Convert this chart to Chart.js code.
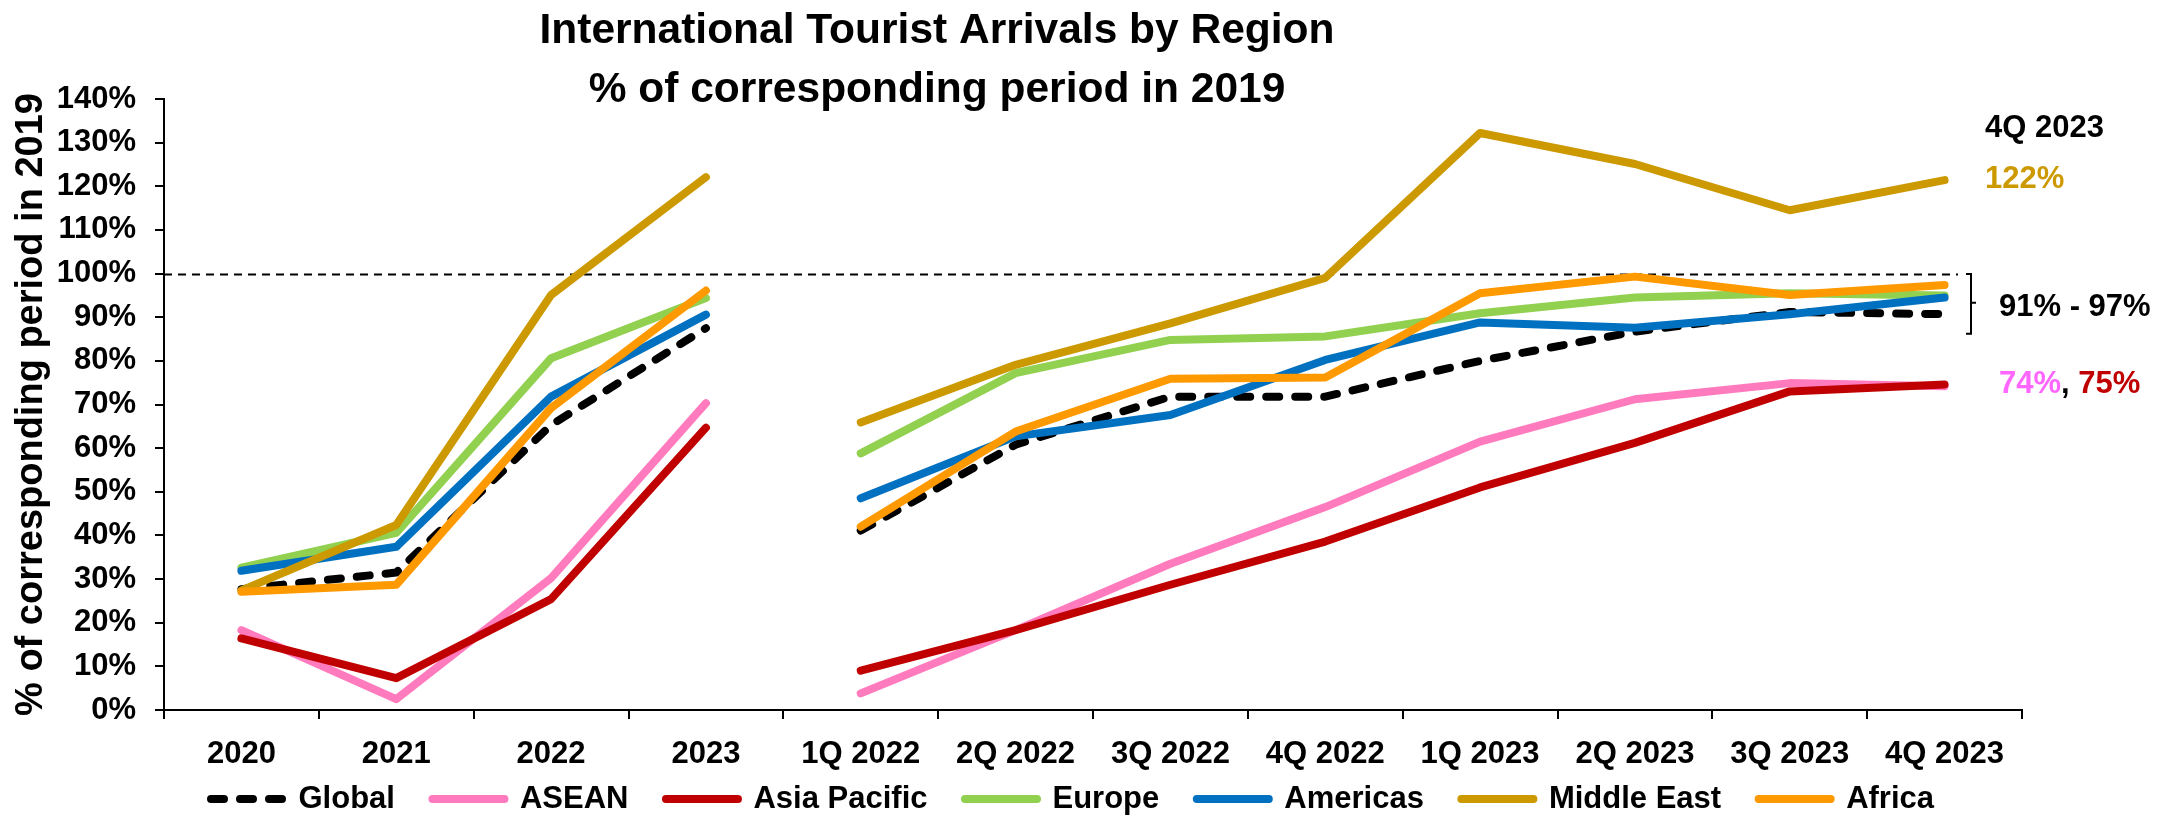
<!DOCTYPE html>
<html>
<head>
<meta charset="utf-8">
<script src="https://cdn.jsdelivr.net/npm/chart.js@4/dist/chart.umd.min.js"></script>
<style>
  html, body { margin: 0; padding: 0; background: #ffffff; }
  canvas { display: block; }
</style>
</head>
<body>
<canvas id="chart" width="2165" height="821"></canvas>
<script>
// ---------- data ----------
const categories = ['2020', '2021', '2022', '2023', '1Q 2022', '2Q 2022', '3Q 2022', '4Q 2022', '1Q 2023', '2Q 2023', '3Q 2023', '4Q 2023'];
const annualCount = 4; // first four categories are annual, the rest quarterly (lines break between them)

const globalValues      = [27.7, 31.5, 65.3, 87.5, 41.1, 60.8, 71.8, 71.8, 80.0, 86.7, 91.2, 90.7];
const aseanValues       = [18.3, 2.5, 30.2, 70.3, 3.8, 18.3, 33.5, 46.5, 61.5, 71.2, 74.9, 74.2];
const asiaPacificValues = [16.4, 7.3, 25.4, 64.7, 9.0, 18.3, 28.7, 38.6, 51.0, 61.2, 73.0, 74.6];
const europeValues      = [32.6, 40.6, 80.6, 94.4, 58.8, 77.2, 84.8, 85.6, 90.9, 94.5, 95.5, 95.0];
const americasValues    = [31.9, 37.4, 71.8, 90.6, 48.5, 62.7, 67.6, 80.2, 88.8, 87.6, 90.7, 94.5];
const middleEastValues  = [27.4, 42.4, 95.1, 122.1, 65.9, 79.1, 88.6, 99.0, 132.2, 125.1, 114.5, 121.4];
const africaValues      = [27.1, 28.7, 69.2, 96.1, 42.0, 63.8, 75.9, 76.2, 95.5, 99.3, 95.1, 97.4];

const seriesNames  = ['Global', 'ASEAN', 'Asia Pacific', 'Europe', 'Americas', 'Middle East', 'Africa'];
const seriesValues = [globalValues, aseanValues, asiaPacificValues, europeValues, americasValues, middleEastValues, africaValues];
const seriesColors = ['#000000', '#FF7BBE', '#C00000', '#92D050', '#0070C0', '#CC9900', '#FF9900'];

const yMin = 0, yMax = 140, yStep = 10;
const referenceValue = 100;

const titleLines = ['International Tourist Arrivals by Region', '% of corresponding period in 2019'];
const yAxisTitle = '% of corresponding period in 2019';
const notePeriod = '4Q 2023';
const noteMiddleEast = '122%';
const noteRange = '91% - 97%';
const noteAsean = '74%';
const noteSep = ', ';
const noteAsiaPacific = '75%';

// ---------- styling ----------
const FONT = '"Liberation Sans", Arial, Helvetica, sans-serif';
Chart.defaults.font.family = FONT;
Chart.defaults.color = '#000000';

const datasets = seriesNames.map((name, i) => ({
  label: name,
  data: seriesValues[i],
  borderColor: seriesColors[i],
  backgroundColor: seriesColors[i],
  borderWidth: 8,
  borderDash: i === 0 ? [13, 16] : [],
  borderCapStyle: 'round',
  borderJoinStyle: 'round',
  pointRadius: 0,
  pointHoverRadius: 0,
  tension: 0,
  fill: false,
  order: seriesNames.length - i,
  segment: {
    borderColor: ctx => (ctx.p0DataIndex === annualCount - 1 ? 'rgba(0,0,0,0)' : undefined)
  }
}));

const CANVAS_H = 821;
const PLOT_BOTTOM = 710;
const PAD_BOTTOM = -40;

const layoutPlugin = {
  id: 'layoutTweaks',
  afterLayout(chart) {
    const lg = chart.legend;
    if (!lg || !lg.lineWidths) return;
    const p = lg.options.labels.padding;
    const fs = lg.options.labels.font.size;
    const dy = (799 - fs / 2 - p) - lg.top;
    lg.top += dy; lg.bottom += dy;
    const curX = (lg.left + p + lg.right - lg.lineWidths[0]) / 2;
    const dx = 211 - curX;
    lg.left += dx; lg.right += dx;
  }
};

const refLinePlugin = {
  id: 'refLine',
  beforeDatasetsDraw(chart) {
    const {ctx, chartArea, scales} = chart;
    const y = Math.round(scales.y.getPixelForValue(referenceValue)) + 0.5;
    ctx.save();
    ctx.strokeStyle = '#000000';
    ctx.lineWidth = 2;
    ctx.setLineDash([8, 6]);
    ctx.beginPath();
    ctx.moveTo(chartArea.left, y);
    ctx.lineTo(chartArea.right - 64, y);
    ctx.stroke();
    ctx.restore();
  }
};

const notesPlugin = {
  id: 'notes',
  afterDraw(chart) {
    const {ctx, chartArea, scales} = chart;
    const yS = scales.y;
    ctx.save();
    // title
    ctx.fillStyle = '#000000';
    ctx.font = 'bold 42.5px ' + FONT;
    ctx.textAlign = 'center';
    ctx.textBaseline = 'alphabetic';
    ctx.fillText(titleLines[0], 937, 43);
    ctx.fillText(titleLines[1], 937, 102);

    // right side notes
    ctx.font = 'bold 31px ' + FONT;
    ctx.textAlign = 'left';
    ctx.textBaseline = 'middle';
    const xA = chartArea.right - 37;
    const xB = chartArea.right - 23;
    ctx.fillStyle = '#000000';
    ctx.fillText(notePeriod, xA, yS.getPixelForValue(133.3));
    ctx.fillStyle = '#CC9900';
    ctx.fillText(noteMiddleEast, xA, yS.getPixelForValue(121.6));
    ctx.fillStyle = '#000000';
    ctx.fillText(noteRange, xB, yS.getPixelForValue(92.3));
    const yN = yS.getPixelForValue(74.7);
    let x = xB;
    ctx.fillStyle = '#FF66FF';
    ctx.fillText(noteAsean, x, yN); x += ctx.measureText(noteAsean).width;
    ctx.fillStyle = '#000000';
    ctx.fillText(noteSep, x, yN); x += ctx.measureText(noteSep).width;
    ctx.fillStyle = '#C00000';
    ctx.fillText(noteAsiaPacific, x, yN);

    // bracket
    const bt = yS.getPixelForValue(99.9), bb = yS.getPixelForValue(86.2), bm = yS.getPixelForValue(93.3);
    const bx0 = chartArea.right - 56, bx1 = chartArea.right - 51, bx2 = chartArea.right - 46;
    ctx.strokeStyle = '#000000';
    ctx.lineWidth = 2;
    ctx.setLineDash([]);
    ctx.beginPath();
    ctx.moveTo(bx0, bt); ctx.lineTo(bx1, bt); ctx.lineTo(bx1, bb); ctx.lineTo(bx0, bb);
    ctx.moveTo(bx1, bm); ctx.lineTo(bx2, bm);
    ctx.stroke();
    ctx.restore();
  }
};

new Chart(document.getElementById('chart'), {
  type: 'line',
  data: { labels: categories, datasets },
  plugins: [layoutPlugin, refLinePlugin, notesPlugin],
  options: {
    responsive: false,
    animation: false,
    devicePixelRatio: 1,
    layout: { padding: { top: 99, right: 143, bottom: PAD_BOTTOM, left: 0 } },
    plugins: {
      title: { display: false },
      tooltip: { enabled: false },
      legend: {
        position: 'bottom',
        labels: {
          usePointStyle: true,
          pointStyle: 'line',
          pointStyleWidth: 72,
          color: '#000000',
          font: { family: FONT, size: 31, weight: 'bold' },
          padding: 37.5,
          sort: (a, b) => a.datasetIndex - b.datasetIndex,
          generateLabels: chart => {
            const items = Chart.defaults.plugins.legend.labels.generateLabels(chart);
            items.forEach(it => {
              const ds = chart.data.datasets[it.datasetIndex];
              it.lineDash = ds.borderDash || [];
              it.lineWidth = ds.borderWidth;
              it.lineCap = 'round';
              it.strokeStyle = ds.borderColor;
              it.fillStyle = ds.borderColor;
            });
            return items;
          }
        }
      }
    },
    scales: {
      x: {
        offset: true,
        ticks: { color: '#000000', font: { family: FONT, size: 31, weight: 'bold' }, padding: 17, maxRotation: 0, autoSkip: false },
        grid: { offset: true, drawOnChartArea: false, drawTicks: true, tickLength: 9, color: '#000000', lineWidth: 2 },
        border: { display: true, color: '#000000', width: 2 },
        afterFit: s => {
          const lh = s.chart.legend ? s.chart.legend.height : 0;
          s.height = CANVAS_H - PLOT_BOTTOM - lh - PAD_BOTTOM;
        }
      },
      y: {
        min: yMin,
        max: yMax,
        ticks: { stepSize: yStep, color: '#000000', font: { family: FONT, size: 31, weight: 'bold' }, padding: 19, callback: v => v + '%' },
        grid: { drawOnChartArea: false, drawTicks: true, tickLength: 9, color: '#000000', lineWidth: 2 },
        border: { display: true, color: '#000000', width: 2 },
        title: { display: true, text: yAxisTitle, color: '#000000', font: { family: FONT, size: 38, weight: 'bold' }, padding: { top: 9, bottom: 0 } },
        afterFit: s => { s.width = 164; }
      }
    }
  }
});
</script>
</body>
</html>
